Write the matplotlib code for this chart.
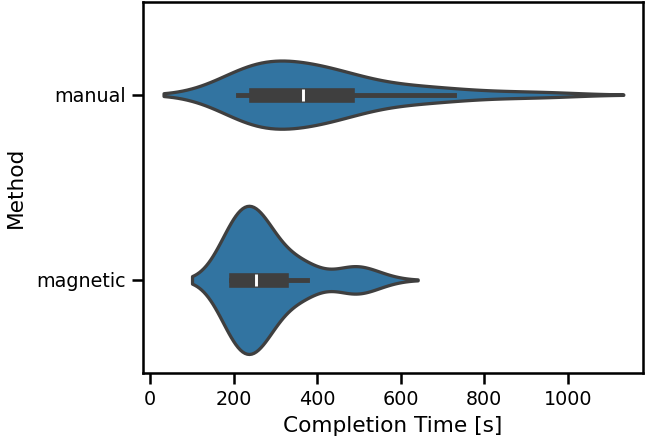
import numpy as np
import pandas as pd
import seaborn as sns
import matplotlib
matplotlib.use("Agg")
import matplotlib.pyplot as plt

# completion times [s] (quartiles / whiskers / tails)
manual_times = [210, 218, 226, 233, 239, 244, 248, 251, 253, 255,
                272, 290, 305, 318, 329, 340, 350, 360, 374,
                386, 398, 410, 422, 434, 445, 456, 466, 486,
                520, 560, 600, 640, 680, 728, 835, 955]
magnetic_times = [193, 196, 197, 198, 199, 200, 201, 202, 203, 204, 207,
                  222, 230, 236, 240, 243, 246, 248, 250, 252, 254,
                  257, 260, 263, 267, 272, 278, 286, 296, 308, 332,
                  355, 366, 371, 375, 477, 481, 489, 505, 548]
methods = ["manual", "magnetic"]

df = pd.DataFrame({
    "Method": ["manual"] * len(manual_times) + ["magnetic"] * len(magnetic_times),
    "Completion Time [s]": manual_times + magnetic_times,
})

sns.set_context("notebook")
plt.rcParams["xtick.labelsize"] = 10.6
plt.rcParams["ytick.labelsize"] = 10.6
plt.rcParams["axes.labelsize"] = 12
plt.rcParams["axes.linewidth"] = 1.4
plt.rcParams["xtick.major.width"] = 1.4
plt.rcParams["ytick.major.width"] = 1.4

dpi = 130
fig = plt.figure(figsize=(645 / dpi, 444 / dpi), dpi=dpi)
ax = fig.add_axes([143 / 645, 1 - 372.5 / 444, 500 / 645, 370.5 / 444])

sns.violinplot(data=df, x="Completion Time [s]", y="Method", order=methods,
               inner="box", linewidth=1.8, ax=ax)
ax.set_xlim(-17, 1180)
ax.set_ylabel("Method", labelpad=6)

fig.savefig("out.png", dpi=dpi)
